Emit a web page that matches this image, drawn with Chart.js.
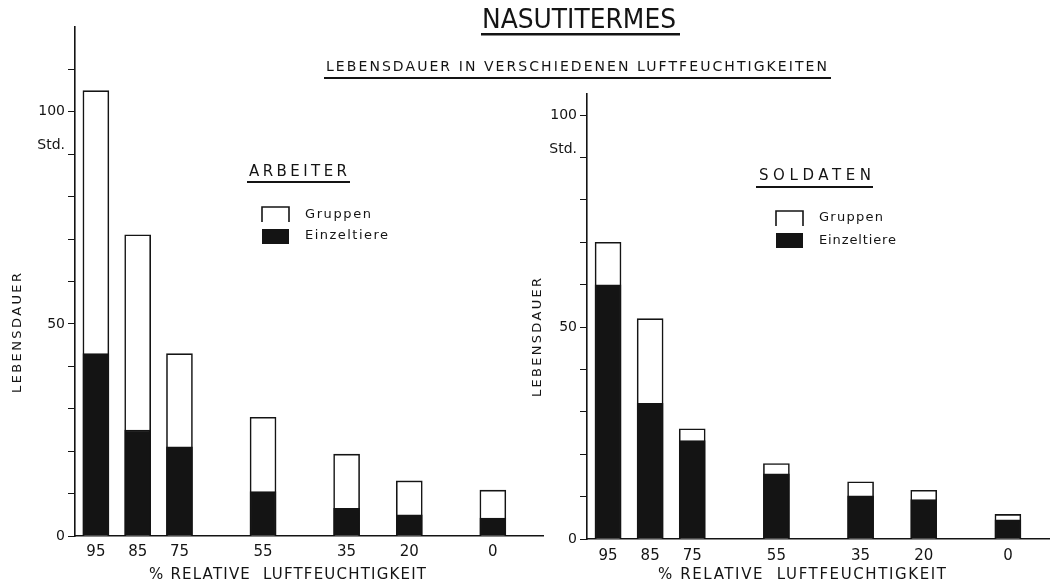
<!DOCTYPE html>
<html>
<head>
<meta charset="utf-8">
<script src="https://cdn.jsdelivr.net/npm/chart.js@4.4.1/dist/chart.umd.min.js"></script>
<style>
  html, body { margin:0; padding:0; background:#fff; }
  #wrap { position:relative; width:1050px; height:587px; }
  #wrap canvas { position:absolute; left:0; top:0; }
</style>
</head>
<body>
<div id="wrap">
  <canvas id="cArb" width="1050" height="587"></canvas>
  <canvas id="cSol" width="1050" height="587"></canvas>
</div>
<script>
// data (Lebensdauer in Std.)
const humidity        = [95, 85, 75, 55, 35, 20, 0];
const arbeiterGruppen = [105, 71, 43, 28, 19.3, 13, 10.8];
const arbeiterEinzel  = [43, 25, 21, 10.5, 6.5, 5, 4.2];
const soldatenGruppen = [70, 52, 26, 17.8, 13.5, 11.5, 5.8];
const soldatenEinzel  = [60, 32, 23.2, 15.4, 10.2, 9.3, 4.5];
const yLabelled = [0, 50, 100];
const STD = 92; // position of the "Std." unit label

const INK = "#141414";
const FONT = '"DejaVu Sans", "Liberation Sans", sans-serif';
Chart.defaults.font.family = FONT;
Chart.defaults.color = INK;

// text helpers: stretch/compress a string to a given width
function spaced(ctx, text, x0, x1, y, size){
  ctx.save();
  ctx.font = size + "px " + FONT;
  ctx.fillStyle = INK;
  ctx.letterSpacing = "0px";
  ctx.textBaseline = "middle";
  ctx.textAlign = "left";
  const w = ctx.measureText(text).width;
  const target = x1 - x0;
  if (w < target && text.length > 1){
    ctx.letterSpacing = ((target - w) / (text.length - 1)) + "px";
    ctx.fillText(text, x0, y);
  } else {
    ctx.translate(x0, y);
    ctx.scale(target / w, 1);
    ctx.fillText(text, 0, 0);
  }
  ctx.restore();
}
function spacedUp(ctx, text, xc, yTop, yBottom, size){
  ctx.save();
  ctx.translate(xc, yBottom);
  ctx.rotate(-Math.PI/2);
  spaced(ctx, text, 0, yBottom - yTop, 0, size);
  ctx.restore();
}
function uline(ctx, x0, x1, y, t){
  ctx.save(); ctx.fillStyle = INK; ctx.fillRect(x0, y, x1 - x0, t||2); ctx.restore();
}

const panels = [
  {
    id:"cArb", name:"ARBEITER", gruppen:arbeiterGruppen, einzel:arbeiterEinzel,
    yMax:120, xMin:-12, pad:{left:0, right:507, top:27, bottom:0}, yW:75, xH:51, xPad:7,
    deco:{
      head:true,
      name:[249,347,172], nameLine:[247,350,181],
      boxG:[262,207], boxE:[262,229], txtG:[305,371,215], txtE:[305,388,236],
      yl:[18,273,393], xl:[149,426,575]
    }
  },
  {
    id:"cSol", name:"SOLDATEN", gruppen:soldatenGruppen, einzel:soldatenEinzel,
    yMax:105, xMin:-10, pad:{left:520, right:0, top:94, bottom:0}, yW:67, xH:48, xPad:8,
    deco:{
      head:false,
      name:[759,871,176], nameLine:[756,873,186],
      boxG:[776,211], boxE:[776,233], txtG:[819,883,218], txtE:[819,896,241],
      yl:[538,278,397], xl:[658,946,575]
    }
  }
];

const decoPlugin = {
  id:"deco",
  afterDraw(chart, args, opts){
    const ctx = chart.ctx, d = opts.d;
    if (d.head){
      spaced(ctx, "NASUTITERMES", 482, 676, 21, 27);
      uline(ctx, 481, 680, 33, 2.5);
      spaced(ctx, "LEBENSDAUER IN VERSCHIEDENEN LUFTFEUCHTIGKEITEN", 326, 827, 67, 14);
      uline(ctx, 324, 831, 77, 2);
    }
    spaced(ctx, opts.name, d.name[0], d.name[1], d.name[2], 15);
    uline(ctx, d.nameLine[0], d.nameLine[1], d.nameLine[2], 2);

    // legend
    const ds = chart.data.datasets;
    const g = ds[1], e = ds[0];
    ctx.save();
    ctx.strokeStyle = INK; ctx.lineWidth = 1.6;
    ctx.beginPath();
    ctx.moveTo(d.boxG[0], d.boxG[1] + 15);
    ctx.lineTo(d.boxG[0], d.boxG[1]);
    ctx.lineTo(d.boxG[0] + 27, d.boxG[1]);
    ctx.lineTo(d.boxG[0] + 27, d.boxG[1] + 15);
    ctx.stroke();
    ctx.fillStyle = e.backgroundColor;
    ctx.fillRect(d.boxE[0], d.boxE[1], 27, 15);
    ctx.restore();
    spaced(ctx, g.label, d.txtG[0], d.txtG[1], d.txtG[2], 13);
    spaced(ctx, e.label, d.txtE[0], d.txtE[1], d.txtE[2], 13);

    // axis titles
    spacedUp(ctx, "LEBENSDAUER", d.yl[0], d.yl[1], d.yl[2], 13);
    spaced(ctx, "% RELATIVE  LUFTFEUCHTIGKEIT", d.xl[0], d.xl[1], d.xl[2], 15);
  }
};

panels.forEach(p=>{
  const yTicks = [];
  for (let v = 0; v < p.yMax; v += 10) yTicks.push(v);
  yTicks.push(STD);

  new Chart(document.getElementById(p.id), {
    type:"bar",
    data:{
      datasets:[
        { label:"Einzeltiere", data: humidity.map((h,i)=>({x:h, y:p.einzel[i]})),
          backgroundColor:INK, borderColor:INK, borderWidth:1.5,
          grouped:false, barThickness:26 },
        { label:"Gruppen", data: humidity.map((h,i)=>({x:h, y:p.gruppen[i]})),
          backgroundColor:"#ffffff", borderColor:INK, borderWidth:1.6,
          grouped:false, barThickness:26 }
      ]
    },
    options:{
      responsive:false,
      animation:false,
      devicePixelRatio:1,
      layout:{ padding:p.pad },
      plugins:{
        legend:{ display:false },
        tooltip:{ enabled:false },
        deco:{ d:p.deco, name:p.name }
      },
      scales:{
        x:{
          type:"linear", reverse:true, min:p.xMin, max:100, offset:false,
          afterBuildTicks:(s)=>{ s.ticks = humidity.map(v=>({value:v})); },
          afterFit:(s)=>{ s.height = p.xH; },
          grid:{ display:false, drawTicks:false },
          border:{ color:INK, width:1.6 },
          ticks:{ autoSkip:false, maxRotation:0, padding:p.xPad, color:INK,
                  font:{ size:15 }, callback:(v)=>String(v) }
        },
        y:{
          min:0, max:p.yMax,
          afterBuildTicks:(s)=>{ s.ticks = yTicks.map(v=>({value:v})); },
          afterFit:(s)=>{ s.width = p.yW; },
          grid:{ drawOnChartArea:false, drawTicks:true, tickLength:7,
                 tickColor:(c)=> (c.tick && c.tick.value===STD) ? "rgba(0,0,0,0)" : INK },
          border:{ color:INK, width:1.6 },
          ticks:{ padding:3, color:INK, font:{ size:14 },
                  callback:(v)=> v===STD ? "Std." : (yLabelled.includes(v) ? String(v) : "") }
        }
      }
    },
    plugins:[decoPlugin]
  });
});
</script>
</body>
</html>
